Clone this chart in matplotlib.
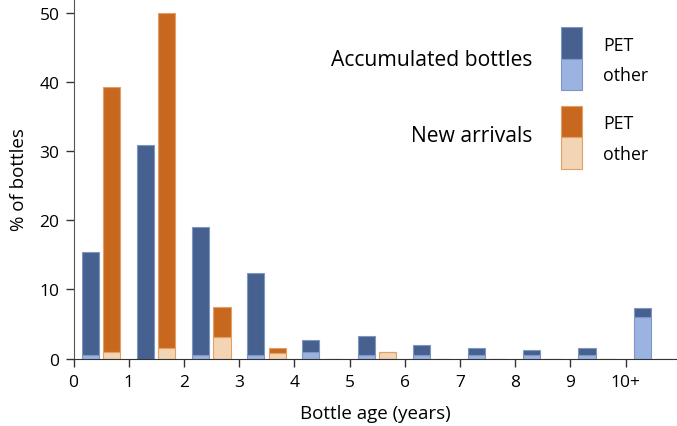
import numpy as np
import matplotlib.pyplot as plt
from matplotlib.patches import Rectangle

plt.rcParams['font.family'] = ['Open Sans', 'DejaVu Sans']

# Bottle age bins (years); last bin is "10+"
edades = np.arange(11)
etiquetas = ['0', '1', '2', '3', '4', '5', '6', '7', '8', '9', '10+']

# Accumulated bottles (% of bottles): total and "other" part
acum_total = [15.4, 30.9, 19.0, 12.4, 2.65, 3.25, 1.95, 1.5, 1.2, 1.5, 7.3]
acum_otro = [0.5, 0.0, 0.5, 0.5, 0.9, 0.5, 0.5, 0.5, 0.5, 0.5, 5.95]

# New arrivals (% of bottles): total and "other" part
nuevo_total = [39.2, 50.0, 7.4, 1.55, 0, 1.0, 0, 0, 0, 0, 0]
nuevo_otro = [1.0, 1.45, 3.1, 0.8, 0, 1.0, 0, 0, 0, 0, 0]

azul = '#46608f'
azul_claro = '#9bb3e0'
naranja = '#c8681f'
naranja_claro = '#f3d4b4'

W, H = 677, 427
fig = plt.figure(figsize=(W / 100, H / 100), dpi=100)
ax = fig.add_axes([73.5 / W, 1 - 359.5 / H, 1 - 73.5 / W, 359.5 / H])

ancho = 0.31
x_acum = edades + 0.3
x_nuevo = edades + 0.69

acum_pet = np.array(acum_total) - np.array(acum_otro)
nuevo_pet = np.array(nuevo_total) - np.array(nuevo_otro)

ax.bar(x_acum, acum_otro, ancho, color=azul_claro, edgecolor='#7f97c4', linewidth=0.8)
ax.bar(x_acum, acum_pet, ancho, bottom=acum_otro, color=azul, edgecolor='#7f97c4', linewidth=0.8)
ax.bar(x_nuevo, nuevo_otro, ancho, color=naranja_claro, edgecolor='#e0a066', linewidth=0.8)
ax.bar(x_nuevo, nuevo_pet, ancho, bottom=nuevo_otro, color=naranja, edgecolor='#e0a066', linewidth=0.8)

ax.set_xlim(0, 10.93)
ax.set_ylim(0, 52)
ax.set_xticks(edades)
ax.set_xticklabels(etiquetas)
ax.set_yticks([0, 10, 20, 30, 40, 50])
ax.tick_params(labelsize=12.5, length=6, width=1, color='#333333')
ax.tick_params(axis='y', pad=4)
ax.tick_params(axis='x', pad=5)
ax.spines['top'].set_visible(False)
ax.spines['right'].set_visible(False)
ax.spines['left'].set_color('#555555')
ax.spines['bottom'].set_color('#333333')
ax.set_xlabel('Bottle age (years)', fontsize=13.5, labelpad=10)
ax.set_ylabel('% of bottles', fontsize=13.5, labelpad=8)

# Leyenda manual
def caja(px, py, pw, ph, color, borde):
    fig.add_artist(Rectangle((px / W, 1 - (py + ph) / H), pw / W, ph / H,
                             facecolor=color, edgecolor=borde, linewidth=0.8,
                             transform=fig.transFigure))

caja(561, 28, 21, 32, azul, '#7f97c4')
caja(561, 60, 21, 31, azul_claro, '#7f97c4')
caja(561, 107, 21, 31, naranja, '#e0a066')
caja(561, 138, 21, 32, naranja_claro, '#e0a066')

for texto, py in [('PET', 46), ('other', 76), ('PET', 124), ('other', 155)]:
    fig.text(603 / W, 1 - py / H, texto, fontsize=12.8, va='center', ha='left')
fig.text(532 / W, 1 - 61 / H, 'Accumulated bottles', fontsize=15.2, va='center', ha='right')
fig.text(532 / W, 1 - 136 / H, 'New arrivals', fontsize=15.2, va='center', ha='right')

fig.savefig('out.png', dpi=100)
